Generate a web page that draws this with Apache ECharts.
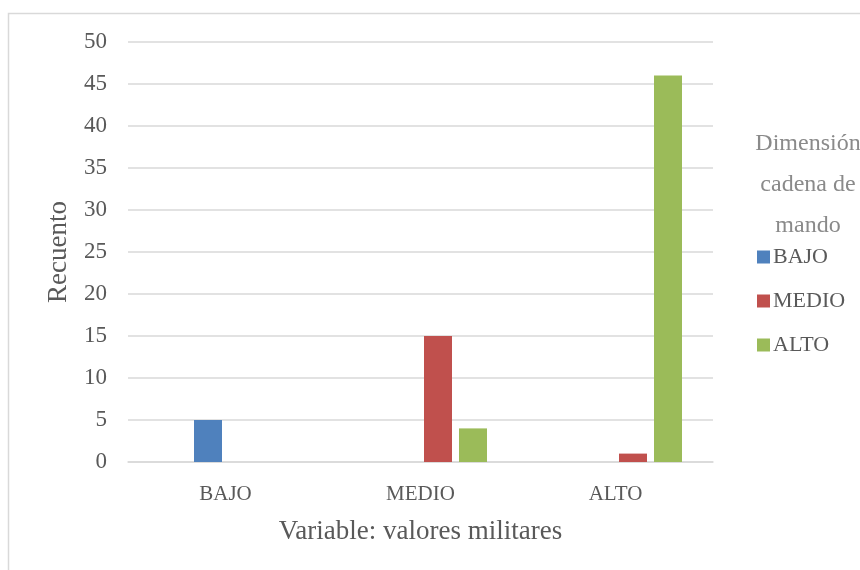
<!DOCTYPE html>
<html>
<head>
<meta charset="utf-8">
<script src="https://cdn.jsdelivr.net/npm/echarts@6/dist/echarts.min.js"></script>
<style>
html,body{margin:0;padding:0;background:#fff;}
#c{width:860px;height:570px;}
</style>
</head>
<body>
<div id="c"></div>
<script>
var categories = ['BAJO', 'MEDIO', 'ALTO'];
var seriesNames = ['BAJO', 'MEDIO', 'ALTO'];
var spacerValues = [null, null, null];
var bajoValues = [5, 0, 0];
var medioValues = [0, 15, 1];
var altoValues = [0, 4, 46];
var yTicks = [0, 5, 10, 15, 20, 25, 30, 35, 40, 45, 50];
var legendTitle = 'Dimensión\ncadena de\nmando';
var xTitle = 'Variable: valores militares';
var yTitle = 'Recuento';

var FONT = '"Liberation Serif", "DejaVu Serif", serif';
var colors = ['#4f81bd', '#c0504d', '#9bbb59'];

var chart = echarts.init(document.getElementById('c'), null, {renderer: 'canvas'});
var valueSets = [bajoValues, medioValues, altoValues];
var series = [{
  name: 'spacer', type: 'bar', data: spacerValues, barWidth: 28, barGap: '25%',
  silent: true, itemStyle: {color: 'rgba(0,0,0,0)'}
}];
seriesNames.forEach(function (n, i) {
  series.push({
    name: n, type: 'bar', data: valueSets[i], barWidth: 28, barGap: '25%',
    itemStyle: {color: colors[i]}
  });
});

chart.setOption({
  animation: false,
  backgroundColor: '#ffffff',
  grid: {left: 128, right: 147, top: 42, bottom: 108, containLabel: false},
  legend: {
    data: seriesNames,
    orient: 'vertical',
    left: 752, top: 241,
    itemWidth: 13, itemHeight: 13, itemGap: 22,
    icon: 'rect',
    textStyle: {fontFamily: FONT, fontSize: 22, color: '#595959', padding: [0, 0, 0, -2]}
  },
  graphic: [
    {type: 'rect', shape: {x: 8.5, y: 13.5, width: 900, height: 600},
     style: {fill: 'none', stroke: '#d9d9d9', lineWidth: 1.5}, silent: true},
    {type: 'text', silent: true,
     style: {x: 808, y: 123, text: legendTitle, fontFamily: FONT, fontSize: 24, fill: '#8a8a8a',
             align: 'center', verticalAlign: 'top', lineHeight: 41}}
  ],
  xAxis: {
    type: 'category', data: categories,
    name: xTitle, nameLocation: 'middle', nameGap: 56,
    nameTextStyle: {fontFamily: FONT, fontSize: 27, color: '#595959'},
    axisLine: {show: true, lineStyle: {color: '#d9d9d9', width: 1.5}},
    axisTick: {show: false},
    axisLabel: {fontFamily: FONT, fontSize: 21, color: '#595959', margin: 22}
  },
  yAxis: {
    type: 'value', min: 0, max: 50, interval: 5,
    name: yTitle, nameLocation: 'middle', nameGap: 56,
    nameTextStyle: {fontFamily: FONT, fontSize: 27, color: '#595959'},
    axisLine: {show: false}, axisTick: {show: false},
    axisLabel: {fontFamily: FONT, fontSize: 23, color: '#595959', margin: 21,
      formatter: function (v) { return yTicks.indexOf(v) >= 0 ? String(v) : ''; }},
    splitLine: {lineStyle: {color: '#d9d9d9', width: 1.5}}
  },
  series: series
});
</script>
</body>
</html>
